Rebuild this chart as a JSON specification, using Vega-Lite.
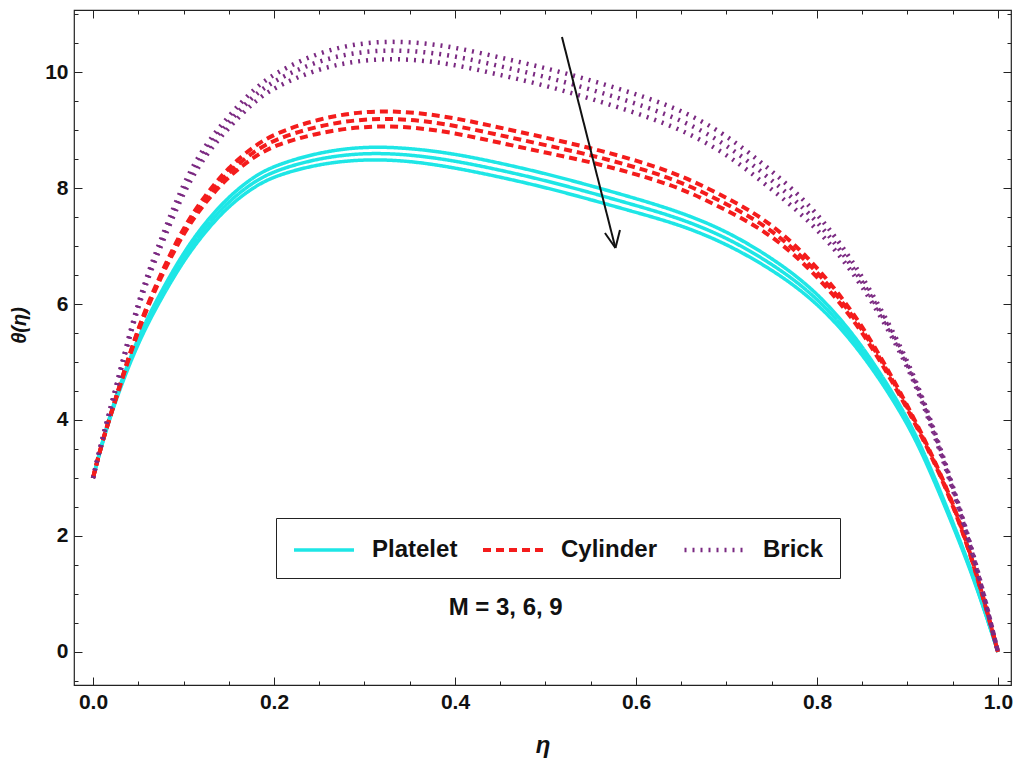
{
  "$schema": "https://vega.github.io/schema/vega-lite/v6.json",
  "width": 937,
  "height": 675,
  "autosize": {"type": "none"},
  "padding": {"left": 74, "top": 10, "right": 2, "bottom": 80},
  "background": "white",
  "config": {
    "view": {"stroke": "#222222", "strokeWidth": 1.2},
    "axis": {
      "grid": false,
      "domain": false,
      "tickColor": "#222222",
      "tickWidth": 1,
      "labelFont": "Liberation Sans",
      "labelFontWeight": "bold",
      "labelFontSize": 21,
      "labelColor": "#111111",
      "titleColor": "#111111",
      "labelFlush": false
    }
  },
  "datasets": {
    "curves": [
      {"shape": "Platelet", "eta": 0, "M3": 3, "M6": 3, "M9": 3},
      {"shape": "Platelet", "eta": 0.01, "M3": 3.61, "M6": 3.6, "M9": 3.59},
      {"shape": "Platelet", "eta": 0.025, "M3": 4.41, "M6": 4.38, "M9": 4.35},
      {"shape": "Platelet", "eta": 0.05, "M3": 5.45, "M6": 5.4, "M9": 5.35},
      {"shape": "Platelet", "eta": 0.075, "M3": 6.21, "M6": 6.15, "M9": 6.09},
      {"shape": "Platelet", "eta": 0.1, "M3": 6.89, "M6": 6.82, "M9": 6.75},
      {"shape": "Platelet", "eta": 0.125, "M3": 7.43, "M6": 7.35, "M9": 7.27},
      {"shape": "Platelet", "eta": 0.15, "M3": 7.85, "M6": 7.77, "M9": 7.69},
      {"shape": "Platelet", "eta": 0.175, "M3": 8.17, "M6": 8.08, "M9": 7.99},
      {"shape": "Platelet", "eta": 0.2, "M3": 8.39, "M6": 8.3, "M9": 8.21},
      {"shape": "Platelet", "eta": 0.25, "M3": 8.62, "M6": 8.52, "M9": 8.42},
      {"shape": "Platelet", "eta": 0.3, "M3": 8.72, "M6": 8.61, "M9": 8.5},
      {"shape": "Platelet", "eta": 0.35, "M3": 8.69, "M6": 8.58, "M9": 8.47},
      {"shape": "Platelet", "eta": 0.4, "M3": 8.59, "M6": 8.47, "M9": 8.35},
      {"shape": "Platelet", "eta": 0.45, "M3": 8.43, "M6": 8.31, "M9": 8.19},
      {"shape": "Platelet", "eta": 0.5, "M3": 8.25, "M6": 8.13, "M9": 8.01},
      {"shape": "Platelet", "eta": 0.55, "M3": 8.04, "M6": 7.92, "M9": 7.8},
      {"shape": "Platelet", "eta": 0.6, "M3": 7.82, "M6": 7.7, "M9": 7.58},
      {"shape": "Platelet", "eta": 0.65, "M3": 7.58, "M6": 7.47, "M9": 7.36},
      {"shape": "Platelet", "eta": 0.7, "M3": 7.26, "M6": 7.15, "M9": 7.04},
      {"shape": "Platelet", "eta": 0.75, "M3": 6.8, "M6": 6.7, "M9": 6.6},
      {"shape": "Platelet", "eta": 0.8, "M3": 6.22, "M6": 6.13, "M9": 6.04},
      {"shape": "Platelet", "eta": 0.85, "M3": 5.31, "M6": 5.24, "M9": 5.17},
      {"shape": "Platelet", "eta": 0.9, "M3": 4.07, "M6": 4.02, "M9": 3.97},
      {"shape": "Platelet", "eta": 0.925, "M3": 3.2, "M6": 3.16, "M9": 3.12},
      {"shape": "Platelet", "eta": 0.95, "M3": 2.25, "M6": 2.22, "M9": 2.19},
      {"shape": "Platelet", "eta": 0.975, "M3": 1.24, "M6": 1.22, "M9": 1.2},
      {"shape": "Platelet", "eta": 1, "M3": 0, "M6": 0, "M9": 0},
      {"shape": "Cylinder", "eta": 0, "M3": 3, "M6": 3, "M9": 3},
      {"shape": "Cylinder", "eta": 0.01, "M3": 3.62, "M6": 3.62, "M9": 3.62},
      {"shape": "Cylinder", "eta": 0.025, "M3": 4.37, "M6": 4.36, "M9": 4.35},
      {"shape": "Cylinder", "eta": 0.05, "M3": 5.62, "M6": 5.6, "M9": 5.58},
      {"shape": "Cylinder", "eta": 0.075, "M3": 6.53, "M6": 6.5, "M9": 6.47},
      {"shape": "Cylinder", "eta": 0.1, "M3": 7.33, "M6": 7.28, "M9": 7.23},
      {"shape": "Cylinder", "eta": 0.125, "M3": 7.9, "M6": 7.84, "M9": 7.78},
      {"shape": "Cylinder", "eta": 0.15, "M3": 8.36, "M6": 8.28, "M9": 8.2},
      {"shape": "Cylinder", "eta": 0.175, "M3": 8.69, "M6": 8.6, "M9": 8.51},
      {"shape": "Cylinder", "eta": 0.2, "M3": 8.94, "M6": 8.84, "M9": 8.74},
      {"shape": "Cylinder", "eta": 0.25, "M3": 9.2, "M6": 9.08, "M9": 8.96},
      {"shape": "Cylinder", "eta": 0.3, "M3": 9.33, "M6": 9.2, "M9": 9.07},
      {"shape": "Cylinder", "eta": 0.35, "M3": 9.32, "M6": 9.19, "M9": 9.06},
      {"shape": "Cylinder", "eta": 0.4, "M3": 9.21, "M6": 9.08, "M9": 8.95},
      {"shape": "Cylinder", "eta": 0.45, "M3": 9.04, "M6": 8.91, "M9": 8.78},
      {"shape": "Cylinder", "eta": 0.5, "M3": 8.87, "M6": 8.74, "M9": 8.61},
      {"shape": "Cylinder", "eta": 0.55, "M3": 8.69, "M6": 8.57, "M9": 8.45},
      {"shape": "Cylinder", "eta": 0.6, "M3": 8.48, "M6": 8.36, "M9": 8.24},
      {"shape": "Cylinder", "eta": 0.65, "M3": 8.22, "M6": 8.11, "M9": 8.0},
      {"shape": "Cylinder", "eta": 0.7, "M3": 7.84, "M6": 7.73, "M9": 7.62},
      {"shape": "Cylinder", "eta": 0.75, "M3": 7.4, "M6": 7.3, "M9": 7.2},
      {"shape": "Cylinder", "eta": 0.8, "M3": 6.66, "M6": 6.58, "M9": 6.5},
      {"shape": "Cylinder", "eta": 0.85, "M3": 5.67, "M6": 5.62, "M9": 5.57},
      {"shape": "Cylinder", "eta": 0.9, "M3": 4.26, "M6": 4.23, "M9": 4.2},
      {"shape": "Cylinder", "eta": 0.925, "M3": 3.47, "M6": 3.45, "M9": 3.43},
      {"shape": "Cylinder", "eta": 0.95, "M3": 2.6, "M6": 2.58, "M9": 2.56},
      {"shape": "Cylinder", "eta": 0.975, "M3": 1.46, "M6": 1.45, "M9": 1.44},
      {"shape": "Cylinder", "eta": 1, "M3": 0, "M6": 0, "M9": 0},
      {"shape": "Brick", "eta": 0, "M3": 3, "M6": 3, "M9": 3},
      {"shape": "Brick", "eta": 0.01, "M3": 3.66, "M6": 3.66, "M9": 3.66},
      {"shape": "Brick", "eta": 0.025, "M3": 4.54, "M6": 4.52, "M9": 4.5},
      {"shape": "Brick", "eta": 0.05, "M3": 6.1, "M6": 6.06, "M9": 6.02},
      {"shape": "Brick", "eta": 0.075, "M3": 7.12, "M6": 7.06, "M9": 7.0},
      {"shape": "Brick", "eta": 0.1, "M3": 8.1, "M6": 8.02, "M9": 7.94},
      {"shape": "Brick", "eta": 0.125, "M3": 8.77, "M6": 8.68, "M9": 8.59},
      {"shape": "Brick", "eta": 0.15, "M3": 9.24, "M6": 9.14, "M9": 9.04},
      {"shape": "Brick", "eta": 0.175, "M3": 9.67, "M6": 9.56, "M9": 9.45},
      {"shape": "Brick", "eta": 0.2, "M3": 9.98, "M6": 9.86, "M9": 9.74},
      {"shape": "Brick", "eta": 0.25, "M3": 10.35, "M6": 10.21, "M9": 10.07},
      {"shape": "Brick", "eta": 0.3, "M3": 10.52, "M6": 10.37, "M9": 10.22},
      {"shape": "Brick", "eta": 0.35, "M3": 10.53, "M6": 10.38, "M9": 10.23},
      {"shape": "Brick", "eta": 0.4, "M3": 10.43, "M6": 10.28, "M9": 10.13},
      {"shape": "Brick", "eta": 0.45, "M3": 10.25, "M6": 10.1, "M9": 9.95},
      {"shape": "Brick", "eta": 0.5, "M3": 10.07, "M6": 9.92, "M9": 9.77},
      {"shape": "Brick", "eta": 0.55, "M3": 9.86, "M6": 9.7, "M9": 9.54},
      {"shape": "Brick", "eta": 0.6, "M3": 9.62, "M6": 9.46, "M9": 9.3},
      {"shape": "Brick", "eta": 0.65, "M3": 9.35, "M6": 9.18, "M9": 9.01},
      {"shape": "Brick", "eta": 0.7, "M3": 8.92, "M6": 8.76, "M9": 8.6},
      {"shape": "Brick", "eta": 0.75, "M3": 8.3, "M6": 8.14, "M9": 7.98},
      {"shape": "Brick", "eta": 0.8, "M3": 7.61, "M6": 7.47, "M9": 7.33},
      {"shape": "Brick", "eta": 0.85, "M3": 6.52, "M6": 6.44, "M9": 6.36},
      {"shape": "Brick", "eta": 0.9, "M3": 5.07, "M6": 5.02, "M9": 4.97},
      {"shape": "Brick", "eta": 0.925, "M3": 4.04, "M6": 4.0, "M9": 3.96},
      {"shape": "Brick", "eta": 0.95, "M3": 2.88, "M6": 2.85, "M9": 2.82},
      {"shape": "Brick", "eta": 0.975, "M3": 1.6, "M6": 1.58, "M9": 1.56},
      {"shape": "Brick", "eta": 1, "M3": 0, "M6": 0, "M9": 0}
    ],
    "shaft": [
      {"x": 0.5182, "y": 10.603, "x2": 0.5773, "y2": 6.966}
    ],
    "head": [
      {"x": 0.5773, "y": 6.966, "x2": 0.5657, "y2": 7.224},
      {"x": 0.5773, "y": 6.966, "x2": 0.5823, "y2": 7.276}
    ],
    "note": [
      {"eta": 0.456, "theta": 0.76, "label": "M = 3, 6, 9"}
    ]
  },
  "layer": [
    {
      "data": {"name": "curves"},
      "transform": [{"fold": ["M3", "M6", "M9"], "as": ["M", "theta"]}],
      "mark": {"type": "line", "interpolate": "basis", "strokeCap": "butt"},
      "encoding": {
        "x": {
          "field": "eta", "type": "quantitative",
          "scale": {"domain": [-0.021, 1.0144], "nice": false, "zero": false},
          "axis": {
            "orient": "bottom", "values": [0, 0.2, 0.4, 0.6, 0.8, 1], "format": ".1f",
            "tickSize": -8, "labelPadding": 14,
            "title": "η", "titleFont": "Liberation Sans", "titleFontStyle": "italic",
            "titleFontWeight": "bold", "titleFontSize": 24, "titleY": 60, "titleBaseline": "middle"
          }
        },
        "y": {
          "field": "theta", "type": "quantitative",
          "scale": {"domain": [-0.57, 11.07], "nice": false, "zero": false},
          "axis": {
            "orient": "left", "values": [0, 2, 4, 6, 8, 10], "format": "d",
            "tickSize": -8, "labelPadding": 14,
            "title": "θ(η)", "titleFont": "Liberation Sans", "titleFontStyle": "italic",
            "titleFontWeight": "bold", "titleFontSize": 20, "titleX": -55, "titleY": 315,
            "titleBaseline": "middle", "titleAngle": 270
          }
        },
        "color": {
          "field": "shape", "type": "nominal",
          "scale": {"domain": ["Platelet", "Cylinder", "Brick"], "range": ["#1ee6e6", "#f41c1c", "#7b2a82"]},
          "legend": {
            "title": null, "orient": "none", "legendX": 202, "legendY": 508, "direction": "horizontal",
            "symbolType": "stroke", "symbolSize": 3600, "symbolStrokeWidth": 4,
            "labelFont": "Liberation Sans", "labelFontWeight": "bold", "labelFontSize": 24,
            "labelColor": "#111111", "labelOffset": 16, "columnPadding": 17, "padding": 16,
            "strokeColor": "#222222", "fillColor": "white", "labelLimit": 0,
            "encode": {
              "symbols": {"update": {"y": {"value": 16}}},
              "labels": {"update": {"y": {"value": 16}}}
            }
          }
        },
        "strokeDash": {
          "field": "shape", "type": "nominal",
          "scale": {"domain": ["Platelet", "Cylinder", "Brick"], "range": [[1, 0], [8, 5], [2, 6]]}
        },
        "strokeWidth": {
          "field": "shape", "type": "nominal",
          "scale": {"domain": ["Platelet", "Cylinder", "Brick"], "range": [3.5, 4.5, 3.5]},
          "legend": null
        },
        "detail": {"field": "M", "type": "nominal"}
      }
    },
    {
      "data": {"name": "shaft"},
      "mark": {"type": "rule", "color": "#111111", "strokeWidth": 2},
      "encoding": {
        "x": {
          "field": "x", "type": "quantitative",
          "axis": {"orient": "bottom", "title": null, "labels": false, "tickSize": -4,
                   "values": [0.05, 0.1, 0.15, 0.25, 0.3, 0.35, 0.45, 0.5, 0.55, 0.65, 0.7, 0.75, 0.85, 0.9, 0.95]}
        },
        "y": {
          "field": "y", "type": "quantitative",
          "axis": {"orient": "left", "title": null, "labels": false, "tickSize": -4,
                   "values": [-0.5, 0.5, 1, 1.5, 2.5, 3, 3.5, 4.5, 5, 5.5, 6.5, 7, 7.5, 8.5, 9, 9.5, 10.5, 11]}
        },
        "x2": {"field": "x2"},
        "y2": {"field": "y2"}
      }
    },
    {
      "data": {"name": "head"},
      "mark": {"type": "rule", "color": "#111111", "strokeWidth": 2},
      "encoding": {
        "x": {
          "field": "x", "type": "quantitative",
          "axis": {"orient": "top", "title": null, "labels": false, "tickSize": -8,
                   "values": [0, 0.2, 0.4, 0.6, 0.8, 1]}
        },
        "y": {
          "field": "y", "type": "quantitative",
          "axis": {"orient": "right", "title": null, "labels": false, "tickSize": -8,
                   "values": [0, 2, 4, 6, 8, 10]}
        },
        "x2": {"field": "x2"},
        "y2": {"field": "y2"}
      }
    },
    {
      "data": {"name": "note"},
      "mark": {"type": "text", "font": "Liberation Sans", "fontWeight": "bold", "fontSize": 24, "color": "#111111"},
      "encoding": {
        "x": {
          "field": "eta", "type": "quantitative",
          "axis": {"orient": "top", "title": null, "labels": false, "tickSize": -4,
                   "values": [0.05, 0.1, 0.15, 0.25, 0.3, 0.35, 0.45, 0.5, 0.55, 0.65, 0.7, 0.75, 0.85, 0.9, 0.95]}
        },
        "y": {
          "field": "theta", "type": "quantitative",
          "axis": {"orient": "right", "title": null, "labels": false, "tickSize": -4,
                   "values": [-0.5, 0.5, 1, 1.5, 2.5, 3, 3.5, 4.5, 5, 5.5, 6.5, 7, 7.5, 8.5, 9, 9.5, 10.5, 11]}
        },
        "text": {"field": "label"}
      }
    }
  ],
  "resolve": {"axis": {"x": "independent", "y": "independent"}}
}
